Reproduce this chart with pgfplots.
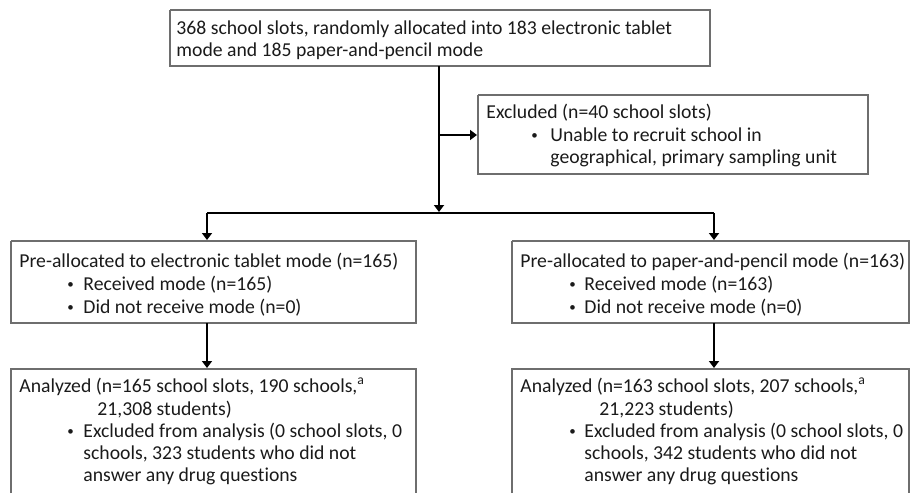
\documentclass[border=0pt]{standalone}
\usepackage{fontspec}
\setmainfont[Ligatures=NoCommon]{Carlito}
\usepackage{pgfplots}
\pgfplotsset{compat=1.18}
\usetikzlibrary{arrows.meta}
\definecolor{boxcol}{HTML}{6E6E6E}
\definecolor{txt}{HTML}{1A1A1A}
\tikzset{t/.style={font=\fontsize{9.85}{11}\selectfont, text=txt, inner sep=0pt, anchor=base west},
  b/.style={font=\fontsize{6.5}{7}\selectfont, text=txt, inner sep=0pt, anchor=base west, yshift=0.9pt}}
\begin{document}
\begin{tikzpicture}
\begin{axis}[
  width=455pt, height=246.5pt, scale only axis,
  xmin=0, xmax=910, ymin=0, ymax=493, y dir=reverse,
  hide axis, clip=false,
]
% boxes
\addplot[boxcol, line width=0.6pt] coordinates {(170,10) (710,10) (710,66) (170,66) (170,10)};
\addplot[boxcol, line width=0.6pt] coordinates {(478,95) (868,95) (868,174) (478,174) (478,95)};
\addplot[boxcol, line width=0.6pt] coordinates {(11,241) (416,241) (416,323) (11,323) (11,241)};
\addplot[boxcol, line width=0.6pt] coordinates {(512,241) (909,241) (909,323) (512,323) (512,241)};
\addplot[boxcol, line width=0.6pt] coordinates {(11,493) (11,369) (416,369) (416,493)};
\addplot[boxcol, line width=0.6pt] coordinates {(512,493) (512,369) (909,369) (909,493)};
% connectors
\addplot[black, line width=0.9pt, -{Triangle[length=3.5pt,width=5pt]}] coordinates {(439,66) (439,212)};
\addplot[black, line width=0.9pt, -{Triangle[length=3.5pt,width=5pt]}] coordinates {(439,135) (477,135)};
\addplot[black, line width=0.9pt] coordinates {(207,213) (714,213)};
\addplot[black, line width=0.9pt, -{Triangle[length=3.5pt,width=5pt]}] coordinates {(207,213) (207,240)};
\addplot[black, line width=0.9pt, -{Triangle[length=3.5pt,width=5pt]}] coordinates {(714,213) (714,240)};
\addplot[black, line width=0.9pt, -{Triangle[length=3.5pt,width=5pt]}] coordinates {(207,323) (207,368)};
\addplot[black, line width=0.9pt, -{Triangle[length=3.5pt,width=5pt]}] coordinates {(714,323) (714,368)};
% texts
\node[t] at (axis cs:176,34) {368 school slots, randomly allocated into 183 electronic tablet};
\node[t] at (axis cs:176,56) {mode and 185 paper-and-pencil mode};
\node[t] at (axis cs:486,118) {Excluded (n=40 school slots)};
\node[b] at (axis cs:531,141) {•};
\node[t] at (axis cs:550,141) {Unable to recruit school in};
\node[t] at (axis cs:550,163) {geographical, primary sampling unit};
% left column
\node[t] at (axis cs:19,267) {Pre-allocated to electronic tablet mode (n=165)};
\node[b] at (axis cs:67,290) {•};
\node[t] at (axis cs:83,290) {Received mode (n=165)};
\node[b] at (axis cs:67,313) {•};
\node[t] at (axis cs:83,313) {Did not receive mode (n=0)};
\node[t] at (axis cs:19,392) {Analyzed (n=165 school slots, 190 schools,\textsuperscript{a}};
\node[t] at (axis cs:97,415) {21,308 students)};
\node[b] at (axis cs:67,437) {•};
\node[t] at (axis cs:83,437) {Excluded from analysis (0 school slots, 0};
\node[t] at (axis cs:83,459) {schools, 323 students who did not};
\node[t] at (axis cs:83,481) {answer any drug questions};
% right column
\node[t] at (axis cs:520,267) {Pre-allocated to paper-and-pencil mode (n=163)};
\node[b] at (axis cs:569,290) {•};
\node[t] at (axis cs:584,290) {Received mode (n=163)};
\node[b] at (axis cs:569,313) {•};
\node[t] at (axis cs:584,313) {Did not receive mode (n=0)};
\node[t] at (axis cs:520,392) {Analyzed (n=163 school slots, 207 schools,\textsuperscript{a}};
\node[t] at (axis cs:599,415) {21,223 students)};
\node[b] at (axis cs:569,437) {•};
\node[t] at (axis cs:584,437) {Excluded from analysis (0 school slots, 0};
\node[t] at (axis cs:584,459) {schools, 342 students who did not};
\node[t] at (axis cs:584,481) {answer any drug questions};
\end{axis}
\pgfresetboundingbox
\path (0,0) rectangle (455pt,246.5pt);
\end{tikzpicture}
\end{document}
